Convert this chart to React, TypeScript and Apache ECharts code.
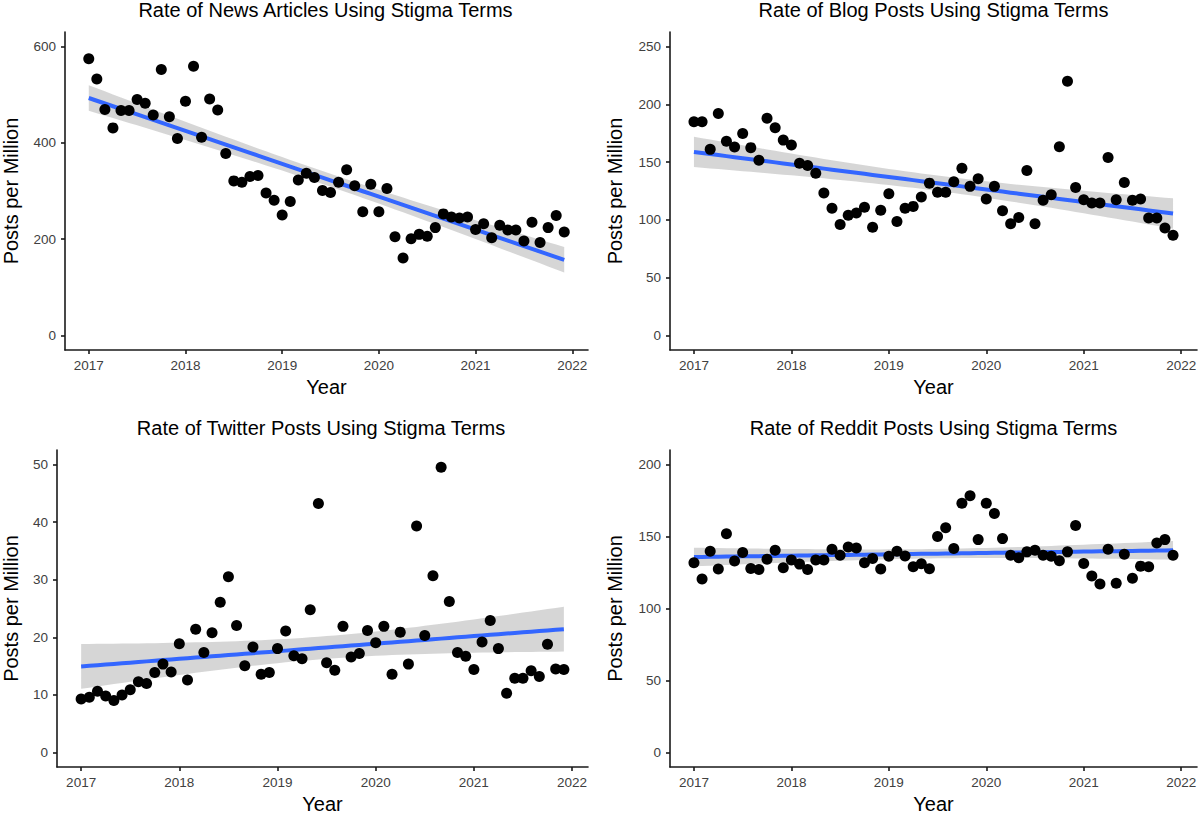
import React, { useEffect, useRef } from "react";
import * as echarts from "echarts";

// ---------- data ----------
const panelTitles = [
  "Rate of News Articles Using Stigma Terms",
  "Rate of Blog Posts Using Stigma Terms",
  "Rate of Twitter Posts Using Stigma Terms",
  "Rate of Reddit Posts Using Stigma Terms",
];

const yearTicks = [2017, 2018, 2019, 2020, 2021, 2022];

// monthly observations, Jan 2017 .. Dec 2021
const firstYear = 2017;
const monthCount = 60;

const newsRate = [
  574.5, 532.6, 469, 431, 467, 467, 490, 482, 457.6, 552,
  454, 409, 486.5, 558.7, 411.5, 491, 468, 378, 321, 318,
  330, 332, 296, 281, 250, 278, 323, 337, 328, 301,
  297, 318, 344, 311, 257, 314, 257, 305, 205, 161,
  201, 210, 206, 224, 252.5, 246, 244, 246, 220, 232,
  203, 229, 219, 219, 196, 235, 193, 224, 249, 215,
];

const blogRate = [
  184.8, 184.8, 161, 192, 168, 163, 174.8, 162.5, 151.6, 188,
  179.7, 169, 164.8, 149, 147, 140.4, 123.2, 110, 96, 104,
  106, 111, 93.7, 108.3, 122.6, 98.6, 110, 111.7, 119.8, 131.8,
  124, 124, 133, 144.7, 129, 135.5, 118, 129, 108, 96.6,
  102, 142.7, 96.6, 117, 121.8, 163.3, 220, 128, 117.5, 114.6,
  114.6, 154, 117.5, 132.4, 117, 118, 101.7, 101.7, 93, 86.8,
];

const twitterRate = [
  9.3, 9.6, 10.65, 9.8, 9.05, 10.0, 10.9, 12.3, 12.0, 13.9,
  15.35, 14.0, 18.9, 12.6, 21.4, 17.35, 20.8, 26.1, 30.5, 22.05,
  15.06, 18.3, 13.6, 13.9, 18.04, 21.1, 16.8, 16.3, 24.8, 43.2,
  15.6, 14.3, 21.9, 16.6, 17.2, 21.2, 19.07, 21.9, 13.6, 20.9,
  15.35, 39.3, 20.3, 30.7, 49.5, 26.2, 17.35, 16.7, 14.4, 19.2,
  22.9, 18.04, 10.3, 12.9, 12.9, 14.2, 13.2, 18.8, 14.5, 14.4,
];

const redditRate = [
  131.7, 120.5, 139.7, 127.4, 151.9, 132.9, 138.8, 127.8, 127.1, 134.2,
  140.4, 128.3, 133.6, 130.8, 127.1, 133.6, 133.6, 141.1, 137, 142.7,
  142, 131.7, 134.7, 127.4, 136.3, 139.7, 136.5, 129, 131, 127.6,
  150, 156, 141.6, 173, 178.2, 147.8, 173, 166, 148.5, 137,
  135.2, 139.3, 140.4, 137, 136.3, 133.1, 139.3, 157.6, 131.3, 122.6,
  117, 141.1, 117.5, 137.7, 121, 129.4, 129, 145.5, 147.8, 137,
];

const newsTicks = [0, 200, 400, 600];
const blogTicks = [0, 50, 100, 150, 200, 250];
const twitterTicks = [0, 10, 20, 30, 40, 50];
const redditTicks = [0, 50, 100, 150, 200];

const yAxisTitle = "Posts per Million";
const xAxisTitle = "Year";

// ---------- helpers ----------
const monthX = Array.from({ length: monthCount }, (_, i) => firstYear + i / 12);

function linearFit(xs: number[], ys: number[]) {
  const n = xs.length;
  const xbar = xs.reduce((a, b) => a + b, 0) / n;
  const ybar = ys.reduce((a, b) => a + b, 0) / n;
  let sxx = 0;
  let sxy = 0;
  for (let i = 0; i < n; i++) {
    sxx += (xs[i] - xbar) ** 2;
    sxy += (xs[i] - xbar) * (ys[i] - ybar);
  }
  const b = sxy / sxx;
  const a = ybar - b * xbar;
  let sse = 0;
  for (let i = 0; i < n; i++) sse += (ys[i] - (a + b * xs[i])) ** 2;
  const s = Math.sqrt(sse / (n - 2));
  const t = 2.0017; // t(0.975, df = 58)
  const fitted = xs.map((x) => a + b * x);
  const half = xs.map((x) => t * s * Math.sqrt(1 / n + (x - xbar) ** 2 / sxx));
  return {
    fitted,
    upper: fitted.map((f, i) => f + half[i]),
    lower: fitted.map((f, i) => f - half[i]),
  };
}

const FONT = "Arial, 'Liberation Sans', Helvetica, sans-serif";

const panels = [
  { title: panelTitles[0], values: newsRate, ticks: newsTicks, grid: { left: 63, top: 32, width: 525, height: 318 }, yNameGap: 44, titleTop: 0 },
  { title: panelTitles[1], values: blogRate, ticks: blogTicks, grid: { left: 670, top: 32, width: 527, height: 318 }, yNameGap: 45, titleTop: 0 },
  { title: panelTitles[2], values: twitterRate, ticks: twitterTicks, grid: { left: 54, top: 450, width: 534, height: 319 }, yNameGap: 36, titleTop: 418 },
  { title: panelTitles[3], values: redditRate, ticks: redditTicks, grid: { left: 670, top: 450, width: 527, height: 319 }, yNameGap: 45, titleTop: 418 },
];

function buildOption() {
  const xSpan = monthX[monthX.length - 1] - monthX[0];
  const xMin = monthX[0] - 0.05 * xSpan;
  const xMax = monthX[monthX.length - 1] + 0.05 * xSpan;

  const axisLineStyle = { color: "#1a1a1a", width: 1.6 };
  const labelStyle = { color: "#404040", fontSize: 13.5, fontFamily: FONT };
  const nameStyle = { color: "#000", fontSize: 20, fontFamily: FONT };

  const grids: any[] = [];
  const xAxes: any[] = [];
  const yAxes: any[] = [];
  const titles: any[] = [];
  const series: any[] = [];

  panels.forEach((p, k) => {
    const yTop = p.ticks[p.ticks.length - 1];
    const yBottom = p.ticks[0];
    const pad = 0.05 * (yTop - yBottom);
    grids.push({ ...p.grid, containLabel: false });
    titles.push({
      text: p.title,
      left: p.grid.left + p.grid.width / 2,
      top: p.titleTop,
      textAlign: "center",
      padding: 0,
      textStyle: { color: "#000", fontSize: 20, fontWeight: "normal", fontFamily: FONT },
    });
    xAxes.push({
      type: "value",
      gridIndex: k,
      min: xMin,
      max: xMax,
      name: xAxisTitle,
      nameLocation: "middle",
      nameGap: 27,
      nameTextStyle: nameStyle,
      axisLine: { show: true, onZero: false, lineStyle: axisLineStyle },
      axisTick: { show: true, length: 4, customValues: yearTicks, lineStyle: axisLineStyle },
      axisLabel: { customValues: yearTicks, margin: 8, formatter: (v: number) => String(Math.round(v)), ...labelStyle },
      splitLine: { show: false },
    });
    yAxes.push({
      type: "value",
      gridIndex: k,
      min: yBottom - pad,
      max: yTop + pad,
      name: yAxisTitle,
      nameLocation: "middle",
      nameGap: p.yNameGap,
      nameTextStyle: nameStyle,
      axisLine: { show: true, onZero: false, lineStyle: axisLineStyle },
      axisTick: { show: true, length: 4, customValues: p.ticks, lineStyle: axisLineStyle },
      axisLabel: { customValues: p.ticks, margin: 9, formatter: (v: number) => String(Math.round(v)), ...labelStyle },
      splitLine: { show: false },
    });

    const fit = linearFit(monthX, p.values);

    series.push({
      type: "custom",
      xAxisIndex: k,
      yAxisIndex: k,
      z: 1,
      silent: true,
      data: [[monthX[0], fit.fitted[0]]],
      renderItem: (_params: any, api: any) => {
        const up = monthX.map((x, i) => api.coord([x, fit.upper[i]]));
        const lo = monthX.map((x, i) => api.coord([x, fit.lower[i]])).reverse();
        return {
          type: "polygon",
          shape: { points: up.concat(lo) },
          style: { fill: "#999999", opacity: 0.4 },
        };
      },
    });
    series.push({
      type: "line",
      xAxisIndex: k,
      yAxisIndex: k,
      z: 2,
      silent: true,
      showSymbol: false,
      data: monthX.map((x, i) => [x, fit.fitted[i]]),
      lineStyle: { color: "#3366FF", width: 4 },
    });
    series.push({
      type: "scatter",
      xAxisIndex: k,
      yAxisIndex: k,
      z: 3,
      symbolSize: 11,
      itemStyle: { color: "#000000", opacity: 1 },
      data: monthX.map((x, i) => [x, p.values[i]]),
    });
  });

  return {
    animation: false,
    backgroundColor: "#ffffff",
    title: titles,
    grid: grids,
    xAxis: xAxes,
    yAxis: yAxes,
    series,
  };
}

export default function App() {
  const ref = useRef<HTMLDivElement>(null);
  useEffect(() => {
    if (!ref.current) return;
    const chart = echarts.init(ref.current, undefined, { renderer: "svg" });
    chart.setOption(buildOption());
    return () => chart.dispose();
  }, []);
  return (
    <div
      ref={ref}
      style={{ position: "absolute", left: 0, top: 0, width: 1200, height: 815, background: "#fff" }}
    />
  );
}
